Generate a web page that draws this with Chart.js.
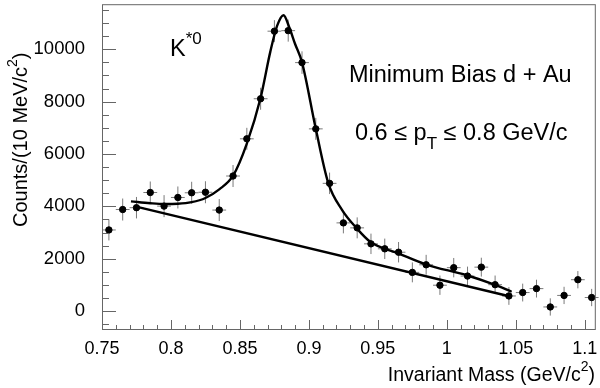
<!DOCTYPE html>
<html>
<head>
<meta charset="utf-8">
<script src="https://cdn.jsdelivr.net/npm/chart.js@4.4.0/dist/chart.umd.min.js"></script>
<style>
  body { margin: 0; background: #fff; }
  canvas { display: block; }
</style>
</head>
<body>
<canvas id="kstar" width="600" height="388"></canvas>
<script>
// measured K*0 invariant mass spectrum (bin centres, counts per 10 MeV/c2)
const massBins = [0.755, 0.765, 0.775, 0.785, 0.795, 0.805, 0.815, 0.825, 0.835, 0.845,
  0.855, 0.865, 0.875, 0.885, 0.895, 0.905, 0.915, 0.925, 0.935, 0.945,
  0.955, 0.965, 0.975, 0.985, 0.995, 1.005, 1.015, 1.025, 1.035, 1.045,
  1.055, 1.065, 1.075, 1.085, 1.095, 1.105];
const counts = [3100, 3880, 3950, 4530, 4010, 4340, 4520, 4540, 3860, 5160,
  6580, 8110, 10690, 10710, 9490, 6960, 4880, 3370, 3180, 2570,
  2380, 2250, 1480, 1770, 990, 1660, 1340, 1680, 1010, 580,
  710, 860, 160, 600, 1200, 520];
const countErrors = [400, 420, 410, 420, 420, 420, 420, 420, 420, 420,
  420, 420, 420, 420, 430, 420, 410, 400, 400, 390,
  390, 390, 380, 380, 370, 370, 360, 360, 350, 340,
  340, 340, 330, 330, 330, 330];
const binHalfWidth = 0.005;

// fit (signal + background)
const fitMass = [0.771, 0.785, 0.795, 0.805, 0.815, 0.825, 0.835, 0.845, 0.855, 0.865,
  0.872, 0.877, 0.8816, 0.886, 0.890, 0.895, 0.905, 0.914, 0.924, 0.9344,
  0.9447, 0.9652, 0.9844, 1.0145, 1.035, 1.047];
const fitCounts = [4190, 4120, 4090, 4100, 4160, 4320, 4650, 5170, 6400, 8150,
  9900, 10900, 11300, 10800, 10200, 9500, 6960, 4900, 3870, 3180,
  2640, 2200, 1790, 1370, 1000, 740];

// linear background
const bgMass = [0.774, 1.046];
const bgCounts = [4000, 560];

const xTicks = [0.75, 0.8, 0.85, 0.9, 0.95, 1, 1.05, 1.1];
const yTicks = [0, 2000, 4000, 6000, 8000, 10000];
const xMinorStep = 0.01;
const yMinorStep = 500;

const FONT = "'Liberation Sans', Arial, sans-serif";

const toPoints = (xs, ys) => xs.map((x, i) => ({ x: x, y: ys[i] }));

// draw a run of text pieces (for super/subscripts)
const drawRich = (ctx, parts, x, y, align) => {
  let total = 0;
  parts.forEach((p) => {
    ctx.font = `${p.size}px ${FONT}`;
    total += ctx.measureText(p.text).width;
  });
  let cx = align === "end" ? x - total : x;
  parts.forEach((p) => {
    ctx.font = `${p.size}px ${FONT}`;
    ctx.fillText(p.text, cx, y + (p.dy || 0));
    cx += ctx.measureText(p.text).width;
  });
};

const noPadding = (s) => {
  s.paddingTop = 0;
  s.paddingBottom = 0;
  s.paddingLeft = 0;
  s.paddingRight = 0;
};

const errorBarPlugin = {
  id: "errorBars",
  beforeDatasetsDraw(chart) {
    const { ctx, scales } = chart;
    const xs = scales.x, ys = scales.y;
    ctx.save();
    ctx.strokeStyle = "#7a7a7a";
    ctx.lineWidth = 1;
    massBins.forEach((m, i) => {
      const px = xs.getPixelForValue(m);
      const py = ys.getPixelForValue(counts[i]);
      ctx.beginPath();
      ctx.moveTo(xs.getPixelForValue(m - binHalfWidth), py);
      ctx.lineTo(xs.getPixelForValue(m + binHalfWidth), py);
      ctx.moveTo(px, ys.getPixelForValue(counts[i] - countErrors[i]));
      ctx.lineTo(px, ys.getPixelForValue(counts[i] + countErrors[i]));
      ctx.stroke();
    });
    ctx.restore();
  },
};

const framePlugin = {
  id: "frame",
  afterDraw(chart) {
    const { ctx, chartArea: a, scales } = chart;
    const xs = scales.x, ys = scales.y;
    ctx.save();
    ctx.strokeStyle = "#666";
    ctx.lineWidth = 1;
    ctx.strokeRect(a.left + 0.5, a.top + 0.5, a.right - a.left - 1, a.bottom - a.top - 1);

    ctx.beginPath();
    // x ticks, pointing up into the frame
    for (let v = xs.min; v <= xs.max + 1e-9; v += xMinorStep) {
      const r = Math.round(v * 100) / 100;
      if (r < xs.min - 1e-9) continue;
      const major = xTicks.some((t) => Math.abs(t - r) < 1e-6);
      const px = Math.round(xs.getPixelForValue(r)) + 0.5;
      ctx.moveTo(px, a.bottom);
      ctx.lineTo(px, a.bottom - (major ? 10 : 5));
    }
    // y ticks, pointing right into the frame
    for (let v = -500; v <= ys.max; v += yMinorStep) {
      if (v < ys.min) continue;
      const major = yTicks.includes(v);
      const py = Math.round(ys.getPixelForValue(v)) + 0.5;
      ctx.moveTo(a.left, py);
      ctx.lineTo(a.left + (major ? 14 : 7), py);
    }
    ctx.stroke();

    // texts
    ctx.fillStyle = "#000";
    ctx.textBaseline = "alphabetic";
    ctx.textAlign = "left";
    drawRich(ctx, [{ text: "K", size: 23.5 }, { text: "*0", size: 17, dy: -12 }], 170, 56, "start");
    drawRich(ctx, [{ text: "Minimum Bias d + Au", size: 23.5 }], 349, 82, "start");
    drawRich(ctx, [
      { text: "0.6 \u2264 p", size: 23.5 },
      { text: "T", size: 17, dy: 9 },
      { text: " \u2264 0.8 GeV/c", size: 23.5 },
    ], 355, 140, "start");

    drawRich(ctx, [
      { text: "Invariant Mass (GeV/c", size: 19.5 },
      { text: "2", size: 14, dy: -10 },
      { text: ")", size: 19.5 },
    ], 595, 381, "end");

    ctx.translate(27, 227);
    ctx.rotate(-Math.PI / 2);
    drawRich(ctx, [
      { text: "Counts/(10 MeV/c", size: 20 },
      { text: "2", size: 14, dy: -10 },
      { text: ")", size: 20 },
    ], 0, 0, "start");
    ctx.restore();
  },
};

const createChart = (ctx) => {
  return new Chart(ctx, {
    type: "scatter",
    data: {
      datasets: [
        {
          label: "data",
          data: toPoints(massBins, counts),
          backgroundColor: "#000",
          borderColor: "#000",
          pointRadius: 3.2,
          pointHoverRadius: 3.2,
          showLine: false,
          order: 1,
        },
        {
          label: "fit",
          data: toPoints(fitMass, fitCounts),
          borderColor: "#000",
          borderWidth: 2.4,
          pointRadius: 0,
          showLine: true,
          cubicInterpolationMode: "monotone",
          order: 2,
        },
        {
          label: "background",
          data: toPoints(bgMass, bgCounts),
          borderColor: "#000",
          borderWidth: 2.4,
          pointRadius: 0,
          showLine: true,
          order: 3,
        },
      ],
    },
    options: {
      responsive: false,
      animation: false,
      devicePixelRatio: 1,
      layout: { padding: { top: 2, right: 2, left: 0, bottom: 0 } },
      plugins: { legend: { display: false }, tooltip: { enabled: false } },
      scales: {
        x: {
          type: "linear",
          min: 0.75,
          max: 1.108,
          afterFit: (s) => { s.height = 58; noPadding(s); },
          afterBuildTicks: (s) => { s.ticks = xTicks.map((v) => ({ value: v })); },
          grid: { display: false, drawTicks: false },
          border: { display: false },
          ticks: {
            color: "#000",
            padding: 8,
            maxRotation: 0,
            autoSkip: false,
            font: { family: FONT, size: 18 },
            callback: (v) => String(v),
          },
        },
        y: {
          type: "linear",
          min: -720,
          max: 11720,
          afterFit: (s) => { s.width = 102; noPadding(s); },
          afterBuildTicks: (s) => { s.ticks = yTicks.map((v) => ({ value: v })); },
          grid: { display: false, drawTicks: false },
          border: { display: false },
          ticks: {
            color: "#000",
            padding: 17,
            autoSkip: false,
            font: { family: FONT, size: 18.5 },
            callback: (v) => String(v),
          },
        },
      },
    },
    plugins: [errorBarPlugin, framePlugin],
  });
};

const kstarChart = createChart(document.getElementById("kstar").getContext("2d"));
</script>
</body>
</html>
